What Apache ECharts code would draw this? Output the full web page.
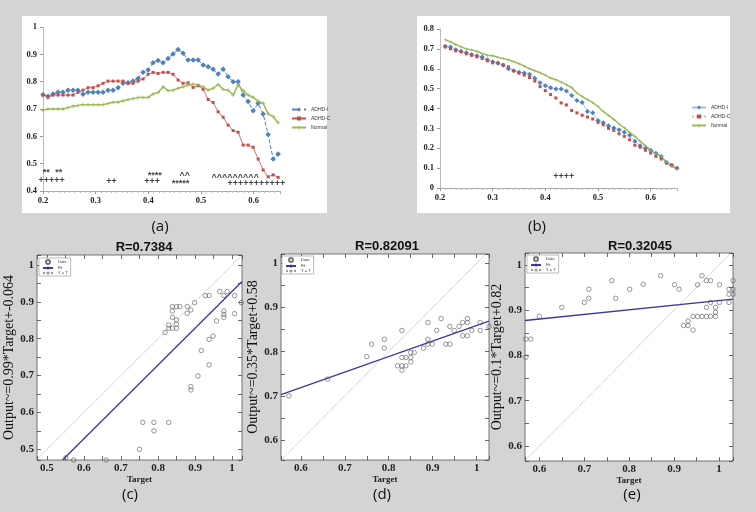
<!DOCTYPE html>
<html><head><meta charset="utf-8">
<script src="https://cdn.jsdelivr.net/npm/echarts@6/dist/echarts.min.js"></script>
<style>html,body{margin:0;padding:0;background:#d4d4d4}#c{width:756px;height:512px}</style>
</head><body><div id="c"></div>
<script>
// ---------- Panel (a) ----------
const xsA = [0.2000,0.2095,0.2190,0.2285,0.2380,0.2475,0.2570,0.2665,0.2760,0.2855,0.2950,0.3045,0.3140,0.3235,0.3330,0.3425,0.3520,0.3615,0.3710,0.3805,0.3900,0.3995,0.4090,0.4185,0.4280,0.4375,0.4470,0.4565,0.4660,0.4755,0.4850,0.4945,0.5040,0.5135,0.5230,0.5325,0.5420,0.5515,0.5610,0.5705,0.5800,0.5895,0.5990,0.6085,0.6180,0.6275,0.6370,0.6465];
const aAdhdI = [0.752,0.747,0.755,0.761,0.761,0.769,0.769,0.769,0.754,0.761,0.761,0.761,0.761,0.769,0.769,0.778,0.794,0.796,0.802,0.812,0.834,0.843,0.869,0.877,0.869,0.885,0.901,0.918,0.904,0.879,0.879,0.879,0.861,0.855,0.845,0.828,0.845,0.818,0.800,0.800,0.751,0.727,0.694,0.721,0.682,0.607,0.517,0.535];
const aAdhdC = [0.752,0.743,0.751,0.751,0.751,0.751,0.751,0.761,0.769,0.778,0.778,0.785,0.794,0.802,0.802,0.802,0.802,0.794,0.794,0.802,0.810,0.827,0.834,0.830,0.834,0.834,0.827,0.806,0.794,0.796,0.779,0.785,0.772,0.735,0.724,0.690,0.670,0.641,0.621,0.615,0.568,0.568,0.560,0.517,0.477,0.452,0.459,0.450];
const aNormal = [0.695,0.700,0.700,0.700,0.700,0.705,0.710,0.713,0.716,0.716,0.716,0.716,0.716,0.720,0.725,0.725,0.730,0.734,0.738,0.742,0.742,0.742,0.755,0.760,0.781,0.767,0.769,0.776,0.781,0.788,0.791,0.788,0.781,0.769,0.776,0.790,0.772,0.769,0.751,0.788,0.767,0.751,0.743,0.729,0.721,0.682,0.672,0.650];
const annotA = [[0.206,0.468,'**'],[0.230,0.468,'**'],[0.2165,0.437,'+++++'],[0.330,0.434,'++'],[0.412,0.456,'****'],[0.407,0.433,'+++'],[0.469,0.458,'^^'],[0.461,0.429,'*****'],[0.565,0.449,'^^^^^^^^^'],[0.605,0.427,'+++++++++++']];
// ---------- Panel (b) ----------
const xsB = [0.21,0.22,0.23,0.24,0.25,0.26,0.27,0.28,0.29,0.30,0.31,0.32,0.33,0.34,0.35,0.36,0.37,0.38,0.39,0.40,0.41,0.42,0.43,0.44,0.45,0.46,0.47,0.48,0.49,0.50,0.51,0.52,0.53,0.54,0.55,0.56,0.57,0.58,0.59,0.60,0.61,0.62,0.63,0.64,0.65];
const bAdhdI = [0.713,0.709,0.695,0.688,0.680,0.672,0.665,0.659,0.645,0.635,0.628,0.618,0.600,0.590,0.582,0.579,0.572,0.552,0.530,0.515,0.505,0.498,0.498,0.488,0.466,0.440,0.430,0.385,0.378,0.340,0.328,0.313,0.302,0.293,0.280,0.265,0.235,0.213,0.200,0.190,0.175,0.158,0.130,0.115,0.100];
const bAdhdC = [0.710,0.700,0.690,0.685,0.675,0.668,0.660,0.652,0.640,0.630,0.630,0.620,0.610,0.590,0.578,0.568,0.556,0.538,0.510,0.490,0.470,0.453,0.428,0.418,0.390,0.378,0.366,0.357,0.347,0.330,0.318,0.300,0.290,0.273,0.260,0.243,0.215,0.205,0.190,0.176,0.159,0.146,0.125,0.115,0.100];
const bNormal = [0.746,0.735,0.722,0.710,0.700,0.695,0.688,0.677,0.668,0.665,0.658,0.652,0.645,0.635,0.625,0.613,0.600,0.590,0.580,0.568,0.553,0.545,0.533,0.520,0.505,0.478,0.460,0.445,0.430,0.410,0.385,0.365,0.345,0.322,0.303,0.280,0.260,0.235,0.212,0.190,0.173,0.160,0.130,0.110,0.095];
const annotB = [[0.435,0.057,'++++']];
// ---------- Panel (c) ----------
const cTarget = [0.551,0.572,0.660,0.750,0.759,0.789,0.789,0.829,0.819,0.829,0.829,0.839,0.839,0.839,0.850,0.859,0.839,0.850,0.850,0.850,0.879,0.879,0.889,0.899,0.889,0.889,0.908,0.917,0.928,0.938,0.938,0.938,0.949,0.958,0.967,0.978,0.978,0.978,0.978,0.987,1.007,1.007,1.025];
const cOutput = [0.477,0.471,0.471,0.500,0.573,0.573,0.550,0.573,0.817,0.828,0.837,0.858,0.875,0.887,0.887,0.887,0.828,0.828,0.839,0.851,0.869,0.887,0.878,0.898,0.670,0.661,0.699,0.768,0.917,0.917,0.798,0.729,0.807,0.848,0.928,0.917,0.875,0.866,0.858,0.928,0.917,0.868,0.898];
const cFit = [[0.542,0.471],[1.027,0.955]];
// ---------- Panel (d) ----------
const dTarget = [0.553,0.573,0.661,0.750,0.761,0.790,0.790,0.820,0.830,0.830,0.830,0.830,0.839,0.839,0.850,0.850,0.850,0.858,0.879,0.889,0.889,0.889,0.899,0.909,0.919,0.930,0.939,0.939,0.949,0.960,0.968,0.968,0.979,0.979,0.979,0.989,1.008,1.008,1.028];
const dOutput = [0.738,0.700,0.738,0.789,0.817,0.828,0.808,0.768,0.848,0.787,0.768,0.758,0.787,0.768,0.787,0.777,0.798,0.798,0.808,0.828,0.866,0.817,0.817,0.848,0.875,0.817,0.857,0.817,0.848,0.857,0.866,0.836,0.875,0.866,0.836,0.848,0.866,0.848,0.857];
const dFit = [[0.555,0.703],[1.028,0.869]];
// ---------- Panel (e) ----------
const eTarget = [0.570,0.581,0.570,0.600,0.650,0.700,0.710,0.710,0.761,0.770,0.801,0.831,0.870,0.901,0.911,0.921,0.931,0.931,0.942,0.942,0.952,0.952,0.962,0.962,0.972,0.972,0.972,0.981,0.981,0.981,0.992,0.992,0.992,1.001,1.001,1.022,1.022,1.022,1.031,1.031,1.031];
const eOutput = [0.836,0.836,0.796,0.886,0.906,0.917,0.926,0.946,0.965,0.926,0.946,0.957,0.976,0.956,0.946,0.866,0.866,0.876,0.856,0.886,0.886,0.956,0.886,0.976,0.906,0.886,0.965,0.886,0.917,0.965,0.886,0.895,0.906,0.956,0.917,0.917,0.935,0.946,0.935,0.946,0.965];
const eFit = [[0.568,0.877],[1.031,0.924]];

const titles = ['R=0.7384','R=0.82091','R=0.32045'];
const yNames = ['Output~=0.99*Target+-0.064','Output~=0.35*Target+0.58','Output~=0.1*Target+0.82'];
const panelTags = ['(a)','(b)','(c)','(d)','(e)'];

const BLUE='#4f81bd', RED='#c0504d', GREEN='#9bbb59';
const plusPath = 'path://M4,0H6V4H10V6H6V10H4V6H0V4H4Z';
const serifBold = {fontFamily:'Liberation Serif', fontWeight:'bold', color:'#222'};
const pair = (xs, ys) => xs.map((x,i)=>[x, ys[i]]);
const tenth = v => Math.abs(v*10 - Math.round(v*10)) < 1e-6 ? String(Math.round(v*10)/10) : '';

function lineX(g){return {type:'value',gridIndex:g,min:0.2,max:0.65,interval:0.1,
  axisLine:{show:true,lineStyle:{color:'#aaa',width:1}},axisTick:{show:true,length:3,lineStyle:{color:'#999'}},
  minorTick:{show:true,splitNumber:10,length:2,lineStyle:{color:'#bbb'}},splitLine:{show:false},
  axisLabel:{...serifBold,fontSize:8.5,margin:5,showMaxLabel:false}};}
function lineY(g,min,max){return {type:'value',gridIndex:g,min,max,interval:0.1,
  axisLine:{show:true,lineStyle:{color:'#bbb',width:1}},axisTick:{show:true,length:3,lineStyle:{color:'#999'}},
  splitLine:{show:false},axisLabel:{...serifBold,fontSize:8.5,margin:6}};}
function scAxis(kind,g,min,max,pos,labels,name){
  const a={type:'value',gridIndex:g,min,max,splitNumber:10,position:pos,
    axisLine:{show:false},axisTick:{show:true,inside:true,length:4,lineStyle:{color:'#444',width:0.8}},
    splitLine:{show:false},axisLabel:{show:labels,...serifBold,fontSize:11,margin:3,formatter:tenth}};
  if(name){
    a.name=name;a.nameLocation='middle';
    if(kind==='x'){a.nameGap=15;a.nameTextStyle={...serifBold,fontSize:9};}
    else{a.nameGap=17;a.nameRotate=90;a.nameTextStyle={fontFamily:'Liberation Serif',fontSize:14,color:'#111'};}
  }
  return a;
}
const ranges = [
  {x:[0.473,1.027],y:[0.471,1.027]},
  {x:[0.555,1.028],y:[0.555,1.021]},
  {x:[0.568,1.031],y:[0.567,1.026]}
];
const grids = [
  {left:43,top:27,width:237,height:164},
  {left:440,top:29,width:237,height:159},
  {left:37,top:255,width:205,height:205,show:true,backgroundColor:'#fff',borderColor:'#555',borderWidth:0.8},
  {left:281,top:254,width:208,height:206,show:true,backgroundColor:'#fff',borderColor:'#555',borderWidth:0.8},
  {left:525,top:253,width:208,height:208,show:true,backgroundColor:'#fff',borderColor:'#555',borderWidth:0.8}
];
const xAxes=[lineX(0),lineX(1)], yAxes=[lineY(0,0.4,1),lineY(1,0,0.8)];
ranges.forEach((r,i)=>{xAxes.push(scAxis('x',i+2,r.x[0],r.x[1],'bottom',true,'Target'));
  yAxes.push(scAxis('y',i+2,r.y[0],r.y[1],'left',true,yNames[i]));});
ranges.forEach((r,i)=>{xAxes.push(scAxis('x',i+2,r.x[0],r.x[1],'top',false));
  yAxes.push(scAxis('y',i+2,r.y[0],r.y[1],'right',false));});

const series=[];
function annot(ax,data){series.push({type:'scatter',name:'annot',xAxisIndex:ax,yAxisIndex:ax,data,symbolSize:1,
  itemStyle:{color:'rgba(0,0,0,0)'},silent:true,
  label:{show:true,position:'inside',formatter:p=>p.data[2],fontSize:9,fontWeight:'bold',color:'#111',fontFamily:'Liberation Sans'}});}
// (a)
series.push({type:'line',name:'ADHD-I',xAxisIndex:0,yAxisIndex:0,data:pair(xsA,aAdhdI),symbol:'diamond',symbolSize:5.5,
  itemStyle:{color:BLUE},lineStyle:{color:BLUE,width:1,type:'dashed'}});
series.push({type:'line',name:'ADHD-C',xAxisIndex:0,yAxisIndex:0,data:pair(xsA,aAdhdC),symbol:'rect',symbolSize:3,
  itemStyle:{color:RED},lineStyle:{color:RED,width:0.8}});
series.push({type:'line',name:'Normal',xAxisIndex:0,yAxisIndex:0,data:pair(xsA,aNormal),symbol:plusPath,symbolSize:4,
  itemStyle:{color:GREEN},lineStyle:{color:GREEN,width:1.5}});
annot(0,annotA);
// (b)
series.push({type:'line',name:'ADHD-I (b)',xAxisIndex:1,yAxisIndex:1,data:pair(xsB,bAdhdI),symbol:'diamond',symbolSize:5,
  itemStyle:{color:BLUE},lineStyle:{color:'#9cc0e6',width:0.8}});
series.push({type:'line',name:'ADHD-C (b)',xAxisIndex:1,yAxisIndex:1,data:pair(xsB,bAdhdC),symbol:'rect',symbolSize:3,
  itemStyle:{color:RED},lineStyle:{color:'#e8b0ae',width:0.6,type:'dotted'}});
series.push({type:'line',name:'Normal (b)',xAxisIndex:1,yAxisIndex:1,data:pair(xsB,bNormal),symbol:plusPath,symbolSize:3,
  itemStyle:{color:GREEN},lineStyle:{color:GREEN,width:1.5}});
annot(1,annotB);
// (c)-(e)
const scat=[[cTarget,cOutput,cFit],[dTarget,dOutput,dFit],[eTarget,eOutput,eFit]];
const tags=['c','d','e'];
scat.forEach((s,i)=>{
  const ax=i+2, r=ranges[i];
  series.push({type:'scatter',name:'Data '+tags[i],xAxisIndex:ax,yAxisIndex:ax,data:pair(s[0],s[1]),symbol:'circle',symbolSize:4.5,
    itemStyle:{color:'rgba(255,255,255,0)',borderColor:'#555',borderWidth:0.75},clip:true});
  series.push({type:'line',name:'Fit '+tags[i],xAxisIndex:ax,yAxisIndex:ax,data:s[2],symbol:'none',clip:true,
    lineStyle:{color:'#3a3aa0',width:1.3},itemStyle:{color:'#3a3aa0'}});
  series.push({type:'line',name:'Y = T '+tags[i],xAxisIndex:ax,yAxisIndex:ax,data:[[r.x[0],r.x[0]],[r.x[1],r.x[1]]],symbol:'none',clip:true,
    lineStyle:{color:'#999',width:0.8,type:'dotted'},itemStyle:{color:'#999'}});
});

const strip = n => n.replace(/ \(b\)$/,'').replace(/ [cde]$/,'');
const legends=[
  {left:286,top:102,orient:'vertical',itemWidth:14,itemHeight:5,itemGap:4,textStyle:{fontSize:5,color:'#333'},data:['ADHD-I','ADHD-C','Normal'],formatter:strip},
  {left:686,top:100,orient:'vertical',itemWidth:14,itemHeight:5,itemGap:4,textStyle:{fontSize:5,color:'#333'},data:['ADHD-I (b)','ADHD-C (b)','Normal (b)'],formatter:strip}
];
[[39,258],[282,256],[527,255]].forEach((p,i)=>legends.push({left:p[0],top:p[1],orient:'vertical',itemWidth:10,itemHeight:4,itemGap:1,
  padding:[1,3],borderColor:'#777',borderWidth:0.5,backgroundColor:'#fff',textStyle:{fontSize:4,color:'#333'},
  data:['Data '+tags[i],'Fit '+tags[i],'Y = T '+tags[i]],formatter:strip}));

const txt=(t,x,y,font)=>({type:'text',x,y,style:{text:t,x:0,y:0,align:'center',verticalAlign:'middle',font,fill:'#111'},z:100});
const graphic=[
  {type:'rect',shape:{x:22,y:16,width:305,height:197},style:{fill:'#fff'},z:-10},
  {type:'rect',shape:{x:417,y:16,width:313,height:197},style:{fill:'#fff'},z:-10},
  txt(panelTags[0],160,227,'15px "Open Sans"'),txt(panelTags[1],537,227,'15px "Open Sans"'),
  txt(panelTags[2],130,495,'15px "Open Sans"'),txt(panelTags[3],382,495,'15px "Open Sans"'),txt(panelTags[4],632,495,'15px "Open Sans"'),
  txt(titles[0],144,247,'bold 13px "Liberation Sans"'),txt(titles[1],387,246,'bold 13px "Liberation Sans"'),txt(titles[2],640,246,'bold 13px "Liberation Sans"')
];

const chart=echarts.init(document.getElementById('c'),null,{renderer:'canvas',width:756,height:512});
chart.setOption({backgroundColor:'#d4d4d4',animation:false,grid:grids,xAxis:xAxes,yAxis:yAxes,series,legend:legends,graphic});
</script></body></html>
